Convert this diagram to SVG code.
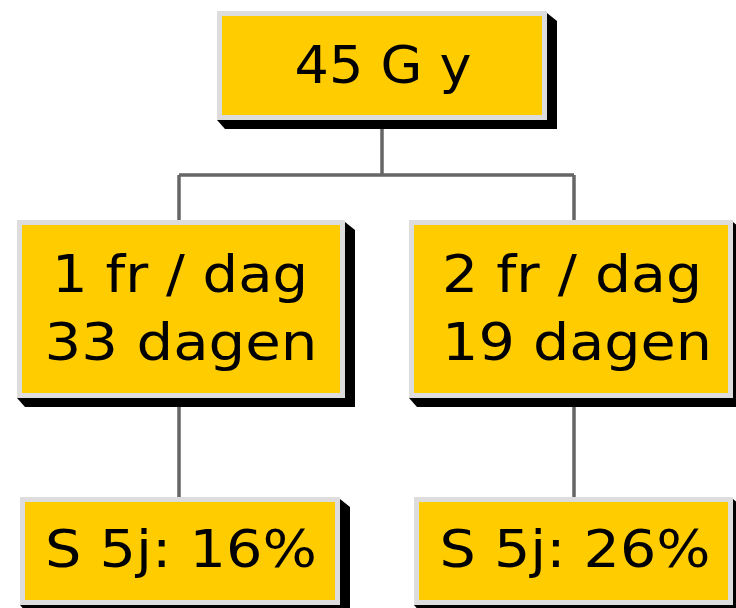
<svg xmlns="http://www.w3.org/2000/svg" width="736" height="608" viewBox="0 0 736 608">
<style>
.box{fill:#FFCC00;stroke:#DDDDDD;stroke-width:5}
.sh{fill:#000}
.t{font-family:"DejaVu Sans",Verdana,sans-serif;font-size:51px;fill:#000;text-anchor:middle}
.c{stroke:#666666;stroke-width:3.5;fill:none}
</style>
<rect width="736" height="608" fill="#fff"/>
<g id="connectors">
<path class="c" d="M382 120V175M179 175H574M179 175V220M574 175V220M179 398V497M574 398V497"/>
</g>
<g id="n45gy">
<polygon class="sh" points="547,13 557,21 557,129 225,129 217,120"/>
<rect class="box" x="219.5" y="13.5" width="325" height="104"/>
<text class="t" x="383" y="83" textLength="177" lengthAdjust="spacingAndGlyphs">45 G y</text>
</g>
<g id="n1fr">
<polygon class="sh" points="345,222 355,230 355,407 25,407 17,398"/>
<rect class="box" x="19.5" y="222.5" width="323" height="173"/>
<text class="t" x="180" y="292" textLength="256" lengthAdjust="spacingAndGlyphs">1 fr / dag</text>
<text class="t" x="181" y="360" textLength="273" lengthAdjust="spacingAndGlyphs">33 dagen</text>
</g>
<g id="n2fr">
<polygon class="sh" points="733,222 743,230 743,407 417,407 409,398"/>
<rect class="box" x="411.5" y="222.5" width="319" height="173"/>
<text class="t" x="572" y="292" textLength="260" lengthAdjust="spacingAndGlyphs">2 fr / dag</text>
<text class="t" x="577" y="360" textLength="270" lengthAdjust="spacingAndGlyphs">19 dagen</text>
</g>
<g id="s16">
<polygon class="sh" points="340,499 350,507 350,614 28,614 20,605"/>
<rect class="box" x="22.5" y="499.5" width="315" height="103"/>
<text class="t" x="181" y="567" textLength="272" lengthAdjust="spacingAndGlyphs">S 5j: 16%</text>
</g>
<g id="s26">
<polygon class="sh" points="733,499 743,507 743,614 422,614 414,605"/>
<rect class="box" x="416.5" y="499.5" width="314" height="103"/>
<text class="t" x="575" y="567" textLength="271" lengthAdjust="spacingAndGlyphs">S 5j: 26%</text>
</g>
</svg>
